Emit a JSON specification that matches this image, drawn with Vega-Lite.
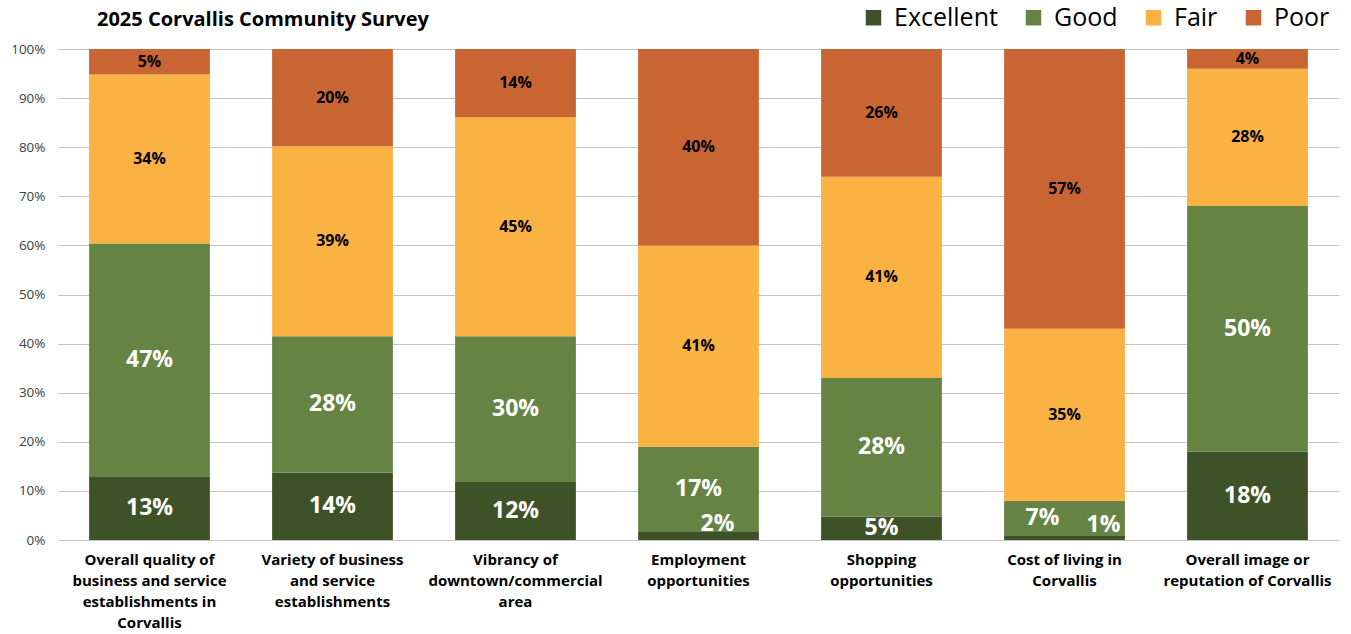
{
  "$schema": "https://vega.github.io/schema/vega-lite/v6.json",
  "width": 1281,
  "height": 491,
  "autosize": {"type": "none"},
  "padding": {"left": 58, "top": 49, "right": 12, "bottom": 94},
  "background": "white",
  "title": {
    "text": "2025 Corvallis Community Survey",
    "anchor": "start",
    "frame": "group",
    "dx": 39,
    "offset": -41,
    "baseline": "alphabetic",
    "font": "Open Sans",
    "fontSize": 20,
    "fontWeight": "bold",
    "color": "#000000"
  },
  "config": {
    "view": {"stroke": null},
    "font": "Open Sans"
  },
  "data": {
    "values": [
      {"category": "Overall quality", "rating": "Excellent", "value": 0.13},
      {"category": "Overall quality", "rating": "Good", "value": 0.474},
      {"category": "Overall quality", "rating": "Fair", "value": 0.344},
      {"category": "Overall quality", "rating": "Poor", "value": 0.052},
      {"category": "Variety", "rating": "Excellent", "value": 0.137},
      {"category": "Variety", "rating": "Good", "value": 0.278},
      {"category": "Variety", "rating": "Fair", "value": 0.387},
      {"category": "Variety", "rating": "Poor", "value": 0.198},
      {"category": "Vibrancy", "rating": "Excellent", "value": 0.118},
      {"category": "Vibrancy", "rating": "Good", "value": 0.297},
      {"category": "Vibrancy", "rating": "Fair", "value": 0.446},
      {"category": "Vibrancy", "rating": "Poor", "value": 0.139},
      {"category": "Employment", "rating": "Excellent", "value": 0.018},
      {"category": "Employment", "rating": "Good", "value": 0.172},
      {"category": "Employment", "rating": "Fair", "value": 0.41},
      {"category": "Employment", "rating": "Poor", "value": 0.40},
      {"category": "Shopping", "rating": "Excellent", "value": 0.048},
      {"category": "Shopping", "rating": "Good", "value": 0.282},
      {"category": "Shopping", "rating": "Fair", "value": 0.41},
      {"category": "Shopping", "rating": "Poor", "value": 0.26},
      {"category": "Cost of living", "rating": "Excellent", "value": 0.008},
      {"category": "Cost of living", "rating": "Good", "value": 0.072},
      {"category": "Cost of living", "rating": "Fair", "value": 0.35},
      {"category": "Cost of living", "rating": "Poor", "value": 0.57},
      {"category": "Overall image", "rating": "Excellent", "value": 0.18},
      {"category": "Overall image", "rating": "Good", "value": 0.50},
      {"category": "Overall image", "rating": "Fair", "value": 0.28},
      {"category": "Overall image", "rating": "Poor", "value": 0.04}
    ]
  },
  "transform": [
    {"calculate": "indexof(['Excellent','Good','Fair','Poor'], datum.rating)", "as": "rorder"},
    {"stack": "value", "groupby": ["category"], "sort": [{"field": "rorder", "order": "ascending"}], "as": ["y0", "y1"]},
    {"calculate": "(datum.y0 + datum.y1) / 2", "as": "ymid"}
  ],
  "encoding": {
    "x": {
      "field": "category",
      "type": "nominal",
      "sort": ["Overall quality", "Variety", "Vibrancy", "Employment", "Shopping", "Cost of living", "Overall image"],
      "scale": {"paddingInner": 0.34, "paddingOuter": 0.17},
      "axis": {
        "title": null,
        "labelAngle": 0,
        "domain": false,
        "ticks": false,
        "labelPadding": 12,
        "labelFontSize": 15,
        "labelFontWeight": "bold",
        "labelColor": "#000000",
        "labelLineHeight": 21,
        "labelLimit": 300,
        "labelBaseline": "top",
        "labelExpr": "datum.value == 'Overall quality' ? ['Overall quality of','business and service','establishments in','Corvallis'] : datum.value == 'Variety' ? ['Variety of business','and service','establishments'] : datum.value == 'Vibrancy' ? ['Vibrancy of','downtown/commercial','area'] : datum.value == 'Employment' ? ['Employment','opportunities'] : datum.value == 'Shopping' ? ['Shopping','opportunities'] : datum.value == 'Cost of living' ? ['Cost of living in','Corvallis'] : ['Overall image or','reputation of Corvallis']"
      }
    }
  },
  "layer": [
    {
      "mark": {"type": "bar"},
      "encoding": {
        "y": {
          "field": "y1",
          "type": "quantitative",
          "scale": {"domain": [0, 1], "nice": false},
          "axis": {
            "title": null,
            "format": ".0%",
            "values": [0, 0.1, 0.2, 0.3, 0.4, 0.5, 0.6, 0.7, 0.8, 0.9, 1],
            "domain": false,
            "ticks": false,
            "labelPadding": 13,
            "labelFontSize": 13.5,
            "labelColor": "#404040",
            "gridColor": "#c4c4c4",
            "gridWidth": 1
          }
        },
        "y2": {"field": "y0"},
        "color": {
          "field": "rating",
          "type": "nominal",
          "scale": {
            "domain": ["Excellent", "Good", "Fair", "Poor"],
            "range": ["#3f5227", "#658443", "#fab243", "#c96533"]
          },
          "legend": {
            "title": null,
            "orient": "none",
            "direction": "horizontal",
            "legendX": 803,
            "legendY": -44,
            "symbolType": "square",
            "symbolSize": 240,
            "symbolStrokeWidth": 0,
            "labelFontSize": 25,
            "labelFont": "Open Sans",
            "labelColor": "#000000",
            "labelOffset": 8,
            "columnPadding": 23,
            "labelLimit": 300
          }
        }
      }
    },
    {
      "transform": [
        {"filter": "(datum.rating == 'Excellent' || datum.rating == 'Good') && !(datum.category == 'Employment' && datum.rating == 'Excellent') && !(datum.category == 'Cost of living')"}
      ],
      "mark": {"type": "text", "color": "#ffffff", "fontSize": 23, "fontWeight": "bold", "baseline": "middle"},
      "encoding": {
        "y": {"field": "ymid", "type": "quantitative"},
        "text": {"field": "value", "type": "quantitative", "format": ".0%"}
      }
    },
    {
      "transform": [
        {"filter": "datum.category == 'Employment' && datum.rating == 'Excellent'"}
      ],
      "mark": {"type": "text", "color": "#ffffff", "fontSize": 23, "fontWeight": "bold", "baseline": "middle", "dx": 19, "dy": -12},
      "encoding": {
        "y": {"field": "ymid", "type": "quantitative"},
        "text": {"field": "value", "type": "quantitative", "format": ".0%"}
      }
    },
    {
      "transform": [
        {"filter": "datum.category == 'Cost of living' && datum.rating == 'Excellent'"}
      ],
      "mark": {"type": "text", "color": "#ffffff", "fontSize": 23, "fontWeight": "bold", "baseline": "middle", "dx": 39, "dy": -13},
      "encoding": {
        "y": {"field": "ymid", "type": "quantitative"},
        "text": {"field": "value", "type": "quantitative", "format": ".0%"}
      }
    },
    {
      "transform": [
        {"filter": "datum.category == 'Cost of living' && datum.rating == 'Good'"}
      ],
      "mark": {"type": "text", "color": "#ffffff", "fontSize": 23, "fontWeight": "bold", "baseline": "middle", "dx": -22},
      "encoding": {
        "y": {"field": "ymid", "type": "quantitative"},
        "text": {"field": "value", "type": "quantitative", "format": ".0%"}
      }
    },
    {
      "transform": [
        {"filter": "datum.rating == 'Fair' || datum.rating == 'Poor'"}
      ],
      "mark": {"type": "text", "color": "#000000", "fontSize": 16, "fontWeight": "bold", "baseline": "middle"},
      "encoding": {
        "y": {"field": "ymid", "type": "quantitative"},
        "text": {"field": "value", "type": "quantitative", "format": ".0%"}
      }
    }
  ]
}
